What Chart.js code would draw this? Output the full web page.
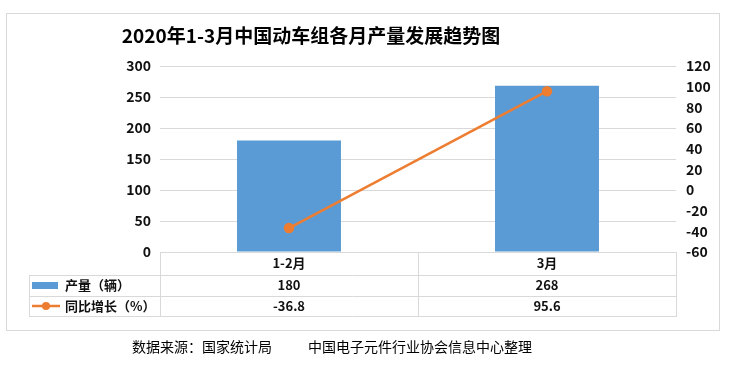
<!DOCTYPE html>
<html>
<head>
<meta charset="utf-8">
<script src="https://cdn.jsdelivr.net/npm/chart.js@4"></script>
<style>
  html, body { margin: 0; padding: 0; background: #fff; }
  canvas { display: block; }
</style>
</head>
<body>
<canvas id="c" width="732" height="369"></canvas>
<script>
const chartTitle = '2020年1-3月中国动车组各月产量发展趋势图';
const categories = ['1-2月', '3月'];
const productionName = '产量（辆）';
const growthName = '同比增长（%）';
const production = [180, 268];
const growth = [-36.8, 95.6];
const leftAxis = { min: 0, max: 300, step: 50 };
const rightAxis = { min: -60, max: 120, step: 20 };
const sourceLeft = '数据来源：国家统计局';
const sourceRight = '中国电子元件行业协会信息中心整理';

const FONT = '"Noto Sans CJK SC", "Noto Sans", sans-serif';
const BLUE = '#5B9BD5';
const ORANGE = '#ED7D31';
const GRID = '#d9d9d9';
const TEXT = '#111';

const framePlugin = {
  id: 'frameAndTable',
  beforeDraw(chart) {
    const ctx = chart.ctx;
    ctx.save();
    ctx.fillStyle = '#fff';
    ctx.fillRect(0, 0, chart.width, chart.height);
    ctx.strokeStyle = GRID;
    ctx.lineWidth = 1;
    ctx.strokeRect(6.5, 13.5, 713, 317);
    // title
    ctx.fillStyle = '#000';
    ctx.font = 'bold 19px ' + FONT;
    ctx.textAlign = 'center';
    ctx.textBaseline = 'middle';
    ctx.fillText(chartTitle, 311, 36);
    // source
    ctx.font = '14px ' + FONT;
    ctx.textAlign = 'left';
    ctx.fillStyle = '#000';
    ctx.fillText(sourceLeft, 132, 347);
    ctx.fillText(sourceRight, 308, 347);
    ctx.restore();
  },
  afterDraw(chart) {
    const ctx = chart.ctx;
    const ca = chart.chartArea;
    const xs = chart.scales.x;
    const top = Math.round(ca.bottom);
    const r1 = top + 23, r2 = r1 + 21, r3 = r2 + 20;
    const L = Math.round(ca.left), R = Math.round(ca.right);
    const tableLeft = 29;
    const mid = Math.round((xs.getPixelForValue(0) + xs.getPixelForValue(1)) / 2);
    ctx.save();
    ctx.strokeStyle = GRID;
    ctx.lineWidth = 1;
    ctx.beginPath();
    // horizontal
    ctx.moveTo(L, top + 0.5); ctx.lineTo(R, top + 0.5);
    [r1, r2, r3].forEach(y => { ctx.moveTo(tableLeft, y + 0.5); ctx.lineTo(R, y + 0.5); });
    // vertical
    [L, mid, R].forEach(x => { ctx.moveTo(x + 0.5, top); ctx.lineTo(x + 0.5, r3 + 1); });
    ctx.moveTo(tableLeft + 0.5, r1); ctx.lineTo(tableLeft + 0.5, r3 + 1);
    ctx.stroke();

    ctx.fillStyle = TEXT;
    ctx.font = 'bold 13px ' + FONT;
    ctx.textAlign = 'center';
    ctx.textBaseline = 'middle';
    const y1 = (top + r1) / 2, y2 = (r1 + r2) / 2, y3 = (r2 + r3) / 2;
    categories.forEach((c, i) => {
      const cx = xs.getPixelForValue(i);
      ctx.fillText(c, cx, y1);
      ctx.fillText(String(production[i]), cx, y2);
      ctx.fillText(growth[i].toFixed(1), cx, y3);
    });
    // legend keys
    ctx.fillStyle = BLUE;
    ctx.fillRect(32, Math.round(y2) - 4, 26, 7);
    ctx.strokeStyle = ORANGE;
    ctx.lineWidth = 2.5;
    ctx.beginPath();
    ctx.moveTo(32, y3); ctx.lineTo(60, y3);
    ctx.stroke();
    ctx.fillStyle = ORANGE;
    ctx.beginPath();
    ctx.arc(46, y3, 4, 0, Math.PI * 2);
    ctx.fill();
    ctx.fillStyle = TEXT;
    ctx.textAlign = 'left';
    ctx.fillText(productionName, 65, y2);
    ctx.fillText(growthName, 65, y3);
    ctx.restore();
  }
};

new Chart(document.getElementById('c'), {
  data: {
    labels: categories,
    datasets: [
      {
        type: 'line',
        label: growthName,
        data: growth,
        yAxisID: 'y1',
        borderColor: ORANGE,
        backgroundColor: ORANGE,
        borderWidth: 2.5,
        pointRadius: 4,
        pointBackgroundColor: ORANGE,
        pointBorderColor: ORANGE,
        tension: 0,
        order: 0
      },
      {
        type: 'bar',
        label: productionName,
        data: production,
        yAxisID: 'y',
        backgroundColor: BLUE,
        categoryPercentage: 1,
        barPercentage: 0.403,
        order: 1
      }
    ]
  },
  options: {
    responsive: false,
    animation: false,
    events: [],
    layout: { padding: { left: 0, right: 0, top: 66, bottom: 117 } },
    plugins: {
      legend: { display: false },
      title: { display: false },
      tooltip: { enabled: false }
    },
    scales: {
      x: { display: false, offset: true },
      y: {
        position: 'left',
        min: leftAxis.min, max: leftAxis.max,
        ticks: { stepSize: leftAxis.step, padding: 9, color: TEXT, font: { family: FONT, size: 14, weight: 'bold' } },
        grid: { color: GRID, drawTicks: false, lineWidth: 1 },
        border: { display: false },
        afterFit: s => { s.width = 160; }
      },
      y1: {
        position: 'right',
        min: rightAxis.min, max: rightAxis.max,
        ticks: { stepSize: rightAxis.step, padding: 10, color: TEXT, font: { family: FONT, size: 14, weight: 'bold' } },
        grid: { display: false, drawTicks: false },
        border: { display: false },
        afterFit: s => { s.width = 56; }
      }
    }
  },
  plugins: [framePlugin]
});
</script>
</body>
</html>
